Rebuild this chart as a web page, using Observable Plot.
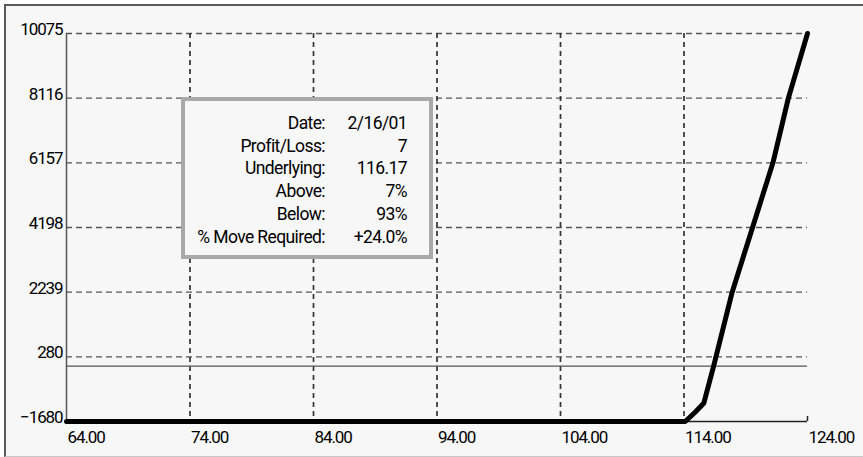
<!DOCTYPE html>
<html>
<head>
<meta charset="utf-8">
<script src="https://cdn.jsdelivr.net/npm/d3@7"></script>
<script src="https://cdn.jsdelivr.net/npm/@observablehq/plot@0.6"></script>
<style>
  html, body { margin: 0; padding: 0; background: #ffffff; }
  #wrap { position: relative; width: 863px; height: 457px; overflow: hidden; }
  #frame { position: absolute; left: 4px; top: 4px; width: 870px; height: 450px;
    border-top: 2px solid #5a5a5a; border-left: 2px solid #5a5a5a; border-bottom: 1px solid #c8c8c8;
    background: #f7f7f7; }
  #chart { position: absolute; left: 0; top: 0; }
  #info { position: absolute; left: 181px; top: 97px; width: 244px; height: 154px;
    border: 4px solid #a9a9a9; background: #f7f7f7;
    font-family: Roboto, "Liberation Sans", sans-serif; letter-spacing: -0.6px;
    font-size: 17.5px; line-height: 22.7px; color: #000; }
  #info .col { position: absolute; top: 11px; text-align: right; white-space: nowrap; }
</style>
</head>
<body>
<div id="wrap">
  <div id="frame"></div>
  <div id="chart"></div>
  <div id="info"></div>
</div>
<script>
// Tick values
const xTicks = [64, 74, 84, 94, 104, 114, 124];
const yTicks = [-1680, 280, 2239, 4198, 6157, 8116, 10075];

// Payoff curve (underlying price vs profit/loss)
const payoffX = [64, 114.1, 114.9, 115.6, 116.4, 117.9, 119.55, 121.2, 122.45, 124];
const payoffY = [-1680, -1680, -1400, -1130, 0, 2239, 4198, 6157, 8116, 10075];

// Info box content
const infoLabels = ["Date:", "Profit/Loss:", "Underlying:", "Above:", "Below:", "% Move Required:"];
const infoValues = ["2/16/01", "7", "116.17", "7%", "93%", "+24.0%"];

const payoff = payoffX.map((x, i) => ({x, y: payoffY[i]}));

const chart = Plot.plot({
  width: 863,
  height: 457,
  marginLeft: 66,
  marginRight: 56,
  marginTop: 33,
  marginBottom: 36,
  style: {background: "transparent", fontFamily: "Roboto, 'Liberation Sans', sans-serif", fontSize: "17px", letterSpacing: "-1.1px", color: "#000"},
  x: {domain: [64, 124]},
  y: {domain: [-1680, 10075]},
  marks: [
    // dashed grid
    Plot.ruleY(yTicks.filter(d => d > yTicks[0]), {stroke: "#555", strokeWidth: 1.3, strokeDasharray: "6,4", strokeOpacity: 1}),
    Plot.ruleX(xTicks.slice(1, -1), {stroke: "#333", strokeWidth: 1.7, strokeDasharray: "5,4", strokeOpacity: 1}),
    // zero line
    Plot.ruleY([0], {stroke: "#555", strokeWidth: 1.3}),
    // axis lines
    Plot.ruleX([xTicks[0]], {stroke: "#555", strokeWidth: 1.5}),
    Plot.ruleY([yTicks[0]], {stroke: "#222", strokeWidth: 1.6}),
    Plot.ruleX([xTicks[xTicks.length - 1]], {y1: yTicks[0], y2: yTicks[0], insetTop: -5, stroke: "#222", strokeWidth: 1.5}),
    // axes labels
    Plot.axisY({ticks: yTicks, tickSize: 0, tickPadding: 4, tickFormat: d3.format("d"), label: null, dy: -4, fill: "#000", fontSize: 17}),
    Plot.axisX({ticks: xTicks, tickSize: 0, tickPadding: 9, tickFormat: d3.format(".2f"), label: null, textAnchor: "start", dx: 1, fill: "#000", fontSize: 17}),
    // payoff line
    Plot.line(payoff, {x: "x", y: "y", stroke: "#000", strokeWidth: 5, strokeLinejoin: "round", strokeLinecap: "round"})
  ]
});
document.getElementById("chart").appendChild(chart);

const info = document.getElementById("info");
const lab = document.createElement("div");
lab.className = "col"; lab.style.left = "0px"; lab.style.width = "140px";
lab.innerHTML = infoLabels.map(s => `<div>${s}</div>`).join("");
const val = document.createElement("div");
val.className = "col"; val.style.left = "140px"; val.style.width = "82px";
val.innerHTML = infoValues.map(s => `<div>${s}</div>`).join("");
info.appendChild(lab); info.appendChild(val);
</script>
</body>
</html>
